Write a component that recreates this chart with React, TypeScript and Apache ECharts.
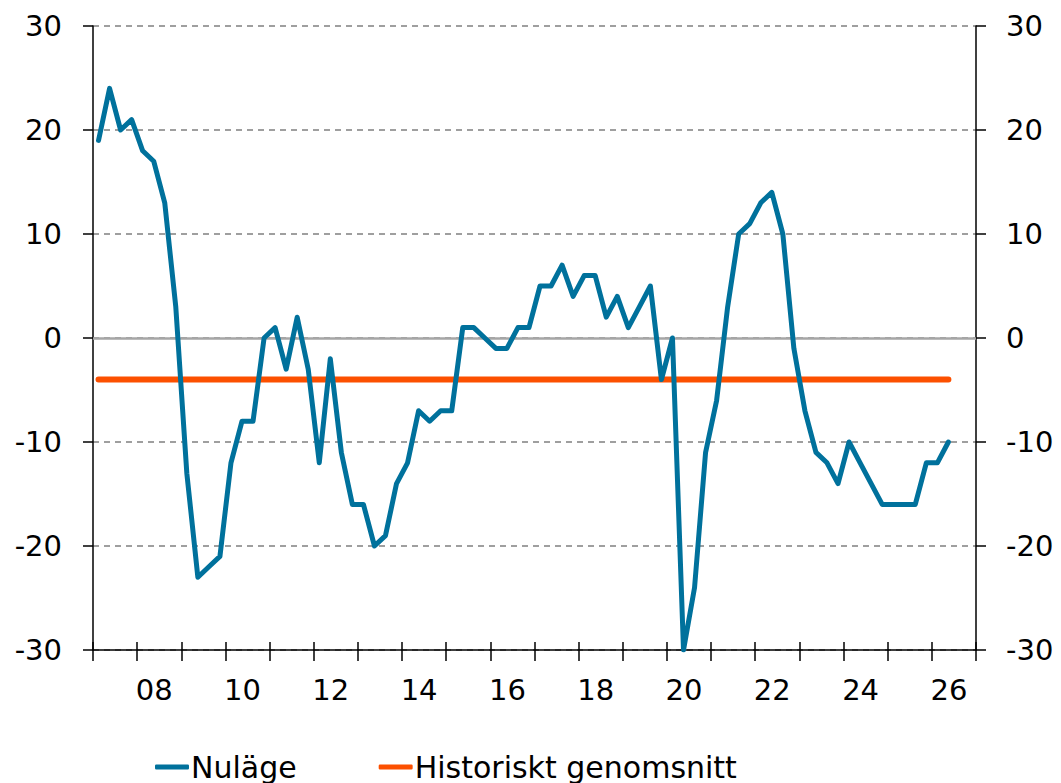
import React, { useEffect, useRef } from "react";
import * as echarts from "echarts";

// Quarterly observations, 2007 Q1 .. 2026 Q2
const firstYear = 2007;
const firstQuarter = 1;
const nulage = [
  19, 24, 20, 21, 18, 17, 13, 3,
  -13, -23, -22, -21, -12, -8, -8, 0,
  1, -3, 2, -3, -12, -2, -11, -16,
  -16, -20, -19, -14, -12, -7, -8, -7,
  -7, 1, 1, 0, -1, -1, 1, 1,
  5, 5, 7, 4, 6, 6, 2, 4,
  1, 3, 5, -4, 0, -30, -24, -11,
  -6, 3, 10, 11, 13, 14, 10, -1,
  -7, -11, -12, -14, -10, -12, -14, -16,
  -16, -16, -16, -12, -12, -10,
];
const historicalAverage = -4;

const yearCategories = [
  "07", "08", "09", "10", "11", "12", "13", "14", "15", "16",
  "17", "18", "19", "20", "21", "22", "23", "24", "25", "26",
];
const yTicks = { min: -30, max: 30, interval: 10 };
const seriesNames = ["Nuläge", "Historiskt genomsnitt"];

const BLUE = "#00719c";
const ORANGE = "#fc5000";
const FONT = "DejaVu Sans";

// position of each quarter (mid-quarter) in decimal years
const quarterX = nulage.map((_, i) => {
  const q = firstQuarter - 1 + i;
  return firstYear + Math.floor(q / 4) + ((q % 4) * 3 + 1.5) / 12;
});

export default function App() {
  const ref = useRef<HTMLDivElement>(null);
  useEffect(() => {
    if (!ref.current) return;
    const chart = echarts.init(ref.current, undefined, { renderer: "svg" });
    const labelStyle = { color: "#000", fontFamily: FONT, fontSize: 29 };
    chart.setOption({
      animation: false,
      backgroundColor: "#fff",
      grid: { left: 93, right: 85, top: 26, bottom: 133, containLabel: false },
      legend: {
        data: seriesNames,
        left: 155,
        top: 750,
        padding: 0,
        icon: "roundRect",
        itemWidth: 34,
        itemHeight: 5,
        itemGap: 82,
        textStyle: { color: "#000", fontFamily: FONT, fontSize: 30, lineHeight: 34, padding: [0, 0, 0, -3] },
      },
      xAxis: [
        {
          type: "category",
          data: yearCategories,
          position: "bottom",
          boundaryGap: true,
          axisLine: { onZero: false, lineStyle: { color: "#000", width: 1.5 } },
          axisTick: { show: true, interval: 0, length: 11, lineStyle: { color: "#000", width: 1.5 } },
          axisLabel: {
            ...labelStyle,
            interval: (idx: number) => idx % 2 === 1,
            margin: 25,
            padding: [0, 10, 0, 0],
          },
          splitLine: { show: false },
        },
        {
          type: "category",
          data: yearCategories,
          position: "bottom",
          boundaryGap: true,
          axisLine: { show: false, onZero: false },
          axisTick: { show: true, inside: true, interval: 0, length: 8, lineStyle: { color: "#000", width: 1.5 } },
          axisLabel: { show: false },
          splitLine: { show: false },
        },
        {
          type: "value",
          min: firstYear,
          max: firstYear + yearCategories.length,
          position: "bottom",
          show: false,
          axisLine: { onZero: false },
          splitLine: { show: false },
        },
      ],
      yAxis: [
        {
          type: "value",
          position: "left",
          ...yTicks,
          axisLine: { show: true, onZero: false, lineStyle: { color: "#000", width: 1.5 } },
          axisTick: { show: true, length: 10, lineStyle: { color: "#000", width: 1.5 } },
          axisLabel: { ...labelStyle, margin: 31 },
          splitLine: { show: true, lineStyle: { color: "#808080", width: 1.5, type: [6, 5] } },
        },
        {
          type: "value",
          position: "right",
          ...yTicks,
          axisLine: { show: true, onZero: false, lineStyle: { color: "#000", width: 1.5 } },
          axisTick: { show: true, length: 10, lineStyle: { color: "#000", width: 1.5 } },
          axisLabel: { ...labelStyle, margin: 30 },
          splitLine: { show: false },
        },
      ],
      series: [
        {
          name: seriesNames[0],
          type: "line",
          xAxisIndex: 2,
          yAxisIndex: 0,
          data: nulage.map((v, i) => [quarterX[i], v]),
          showSymbol: false,
          symbol: "none",
          lineStyle: { color: BLUE, width: 5, join: "round", cap: "round" },
          itemStyle: { color: BLUE },
          z: 3,
          markLine: {
            silent: true,
            symbol: "none",
            z: 1,
            label: { show: false },
            lineStyle: { color: "#a6a6a6", width: 2.5, type: "solid" },
            data: [{ yAxis: 0 }],
          },
        },
        {
          name: seriesNames[1],
          type: "line",
          xAxisIndex: 2,
          yAxisIndex: 0,
          data: quarterX.map((x) => [x, historicalAverage]),
          showSymbol: false,
          symbol: "none",
          lineStyle: { color: ORANGE, width: 6, cap: "round" },
          itemStyle: { color: ORANGE },
          z: 2,
        },
      ],
    });
    return () => chart.dispose();
  }, []);
  return (
    <div
      ref={ref}
      style={{ position: "absolute", left: 0, top: 0, width: 1061, height: 783 }}
    />
  );
}
